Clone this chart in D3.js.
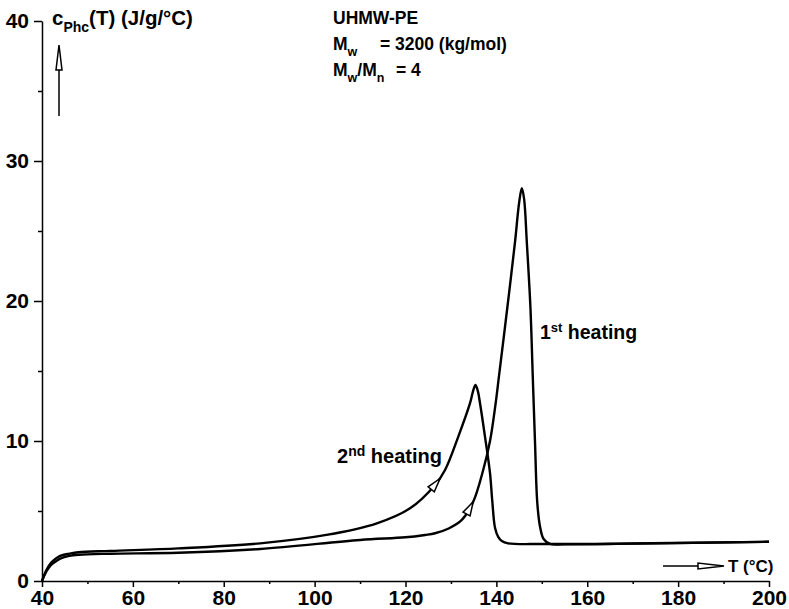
<!DOCTYPE html>
<html>
<head>
<meta charset="utf-8">
<script src="https://cdn.jsdelivr.net/npm/d3@7/dist/d3.min.js"></script>
<style>
  body { margin: 0; background: #fff; }
  svg text { font-family: "Liberation Sans", Arial, sans-serif; font-weight: bold; fill: #000; }
</style>
</head>
<body>
<div id="chart"></div>
<script>
// 1st heating (T in °C, cp in J/g/°C)
const firstT = [40, 41, 42, 43, 44, 46, 48, 55, 70, 88, 110, 120, 124.3, 126.5, 129.5, 132.4, 134.9, 137.1, 138.6, 139.8, 140.6, 142.4, 144.1, 145.0, 145.6, 146.1, 146.7, 147.5, 148.0, 148.5, 149.0, 149.6, 150.4, 151.8, 155, 170, 200];
const firstCp = [0, 0.7, 1.15, 1.4, 1.6, 1.8, 1.88, 1.95, 2.02, 2.29, 2.93, 3.12, 3.29, 3.41, 3.75, 4.36, 5.66, 7.93, 10.0, 12.6, 14.7, 19.5, 24.2, 27.0, 28.05, 27.3, 24.2, 19.5, 14.7, 9.95, 5.6, 3.9, 3.0, 2.65, 2.62, 2.67, 2.8];

// 2nd heating
const secondT = [40, 41, 42, 43, 44, 46, 48, 55, 70, 88, 102.6, 113.7, 121, 126.5, 128.7, 131.6, 134.2, 134.9, 135.4, 135.9, 136.4, 137.5, 138.6, 139.1, 139.7, 140.4, 141.2, 142.6, 150, 170, 200];
const secondCp = [0, 0.8, 1.3, 1.6, 1.8, 1.95, 2.05, 2.15, 2.33, 2.69, 3.29, 4.12, 5.19, 6.86, 7.93, 10.3, 12.7, 13.6, 14.0, 13.6, 12.7, 10.3, 7.7, 5.7, 3.8, 3.15, 2.85, 2.69, 2.64, 2.68, 2.8];

const xTicks = [40, 60, 80, 100, 120, 140, 160, 180, 200];
const xMinor = [50, 70, 90, 110, 130, 150, 170, 190];
const yTicks = [0, 10, 20, 30, 40];
const yMinor = [5, 15, 25, 35];

// where the little open arrowheads sit on each curve (T values)
const arrowFirstT = 134.9;
const arrowSecondT = 127.6;

const width = 789, height = 609;
const x = d3.scaleLinear().domain([40, 200]).range([42, 769]);
const y = d3.scaleLinear().domain([0, 40]).range([581, 21]);

const svg = d3.select('#chart').append('svg')
    .attr('width', width)
    .attr('height', height);

// axes
const yAxis = svg.append('g')
    .attr('transform', `translate(${x(40)},0)`)
    .call(d3.axisLeft(y).tickValues(yTicks).tickSize(8).tickPadding(5).tickSizeOuter(0));
svg.append('g')
    .attr('transform', `translate(${x(40)},0)`)
    .call(d3.axisLeft(y).tickValues(yMinor).tickSize(4).tickFormat('').tickSizeOuter(0))
    .select('.domain').remove();

const xAxis = svg.append('g')
    .attr('transform', `translate(0,${y(0)})`)
    .call(d3.axisBottom(x).tickValues(xTicks).tickSize(6).tickPadding(3).tickSizeOuter(0));
svg.append('g')
    .attr('transform', `translate(0,${y(0)})`)
    .call(d3.axisBottom(x).tickValues(xMinor).tickSize(3).tickFormat('').tickSizeOuter(0))
    .select('.domain').remove();

svg.selectAll('.domain, .tick line').attr('stroke', '#000').attr('stroke-width', 1.5);
yAxis.selectAll('text').style('font-size', '21px');
xAxis.selectAll('text').style('font-size', '21px');

// curves
const line = d3.line()
    .x(d => x(d[0]))
    .y(d => y(d[1]))
    .curve(d3.curveCatmullRom.alpha(0.5));

const firstData = firstT.map((t, i) => [t, firstCp[i]]);
const secondData = secondT.map((t, i) => [t, secondCp[i]]);

const p1 = svg.append('path').datum(firstData)
    .attr('d', line).attr('fill', 'none').attr('stroke', '#000').attr('stroke-width', 2.4);
const p2 = svg.append('path').datum(secondData)
    .attr('d', line).attr('fill', 'none').attr('stroke', '#000').attr('stroke-width', 2.4);

// hollow arrowhead along a curve at a given T
function arrowOnPath(path, t) {
    const node = path.node();
    const len = node.getTotalLength();
    const px = x(t);
    let lo = 0, hi = len;
    for (let i = 0; i < 40; i++) {
        const mid = (lo + hi) / 2;
        if (node.getPointAtLength(mid).x < px) lo = mid; else hi = mid;
    }
    const tip = node.getPointAtLength(lo);
    const back = node.getPointAtLength(Math.max(0, lo - 14));
    const ang = Math.atan2(tip.y - back.y, tip.x - back.x) * 180 / Math.PI;
    svg.append('path')
        .attr('d', 'M0,0 L-14,-4 L-14,4 Z')
        .attr('transform', `translate(${tip.x},${tip.y}) rotate(${ang})`)
        .attr('fill', '#fff')
        .attr('stroke', '#000')
        .attr('stroke-width', 1.5);
}
arrowOnPath(p1, arrowFirstT);
arrowOnPath(p2, arrowSecondT);

// axis direction arrows
svg.append('line').attr('x1', 59).attr('x2', 59).attr('y1', 116).attr('y2', 52)
    .attr('stroke', '#000').attr('stroke-width', 1.5);
svg.append('path').attr('d', 'M59,45 L56,70 L62,70 Z')
    .attr('fill', '#fff').attr('stroke', '#000').attr('stroke-width', 1.5);
svg.append('line').attr('x1', 663).attr('x2', 718).attr('y1', 566).attr('y2', 566)
    .attr('stroke', '#000').attr('stroke-width', 1.5);
svg.append('path').attr('d', 'M724,566 L698,563 L698,569 Z')
    .attr('fill', '#fff').attr('stroke', '#000').attr('stroke-width', 1.5);

// labels
const yl = svg.append('text').attr('x', 52).attr('y', 25).style('font-size', '20.5px');
yl.append('tspan').text('c');
yl.append('tspan').attr('dy', 7).style('font-size', '14px').text('Phc');
yl.append('tspan').attr('dy', -7).text('(T) (J/g/°C)');

svg.append('text').attr('x', 728).attr('y', 572).style('font-size', '17px').text('T (°C)');

svg.append('text').attr('x', 333).attr('y', 24).style('font-size', '17.5px').text('UHMW-PE');
const m1 = svg.append('text').attr('x', 333).attr('y', 50).style('font-size', '17.5px');
m1.append('tspan').text('M');
m1.append('tspan').attr('dy', 6).style('font-size', '12.5px').text('w');
m1.append('tspan').attr('x', 380).attr('dy', -6).text('= 3200 (kg/mol)');
const m2 = svg.append('text').attr('x', 333).attr('y', 76).style('font-size', '17.5px');
m2.append('tspan').text('M');
m2.append('tspan').attr('dy', 6).style('font-size', '12.5px').text('w');
m2.append('tspan').attr('dy', -6).text('/M');
m2.append('tspan').attr('dy', 6).style('font-size', '12.5px').text('n');
m2.append('tspan').attr('x', 396).attr('dy', -6).text('= 4');

const h2 = svg.append('text').attr('x', 337).attr('y', 463).style('font-size', '20px');
h2.append('tspan').text('2');
h2.append('tspan').attr('dy', -7).style('font-size', '14px').text('nd');
h2.append('tspan').attr('dy', 7).text(' heating');

const h1 = svg.append('text').attr('x', 540).attr('y', 339).style('font-size', '19.5px');
h1.append('tspan').text('1');
h1.append('tspan').attr('dy', -7).style('font-size', '13px').text('st');
h1.append('tspan').attr('dy', 7).text(' heating');
</script>
</body>
</html>
